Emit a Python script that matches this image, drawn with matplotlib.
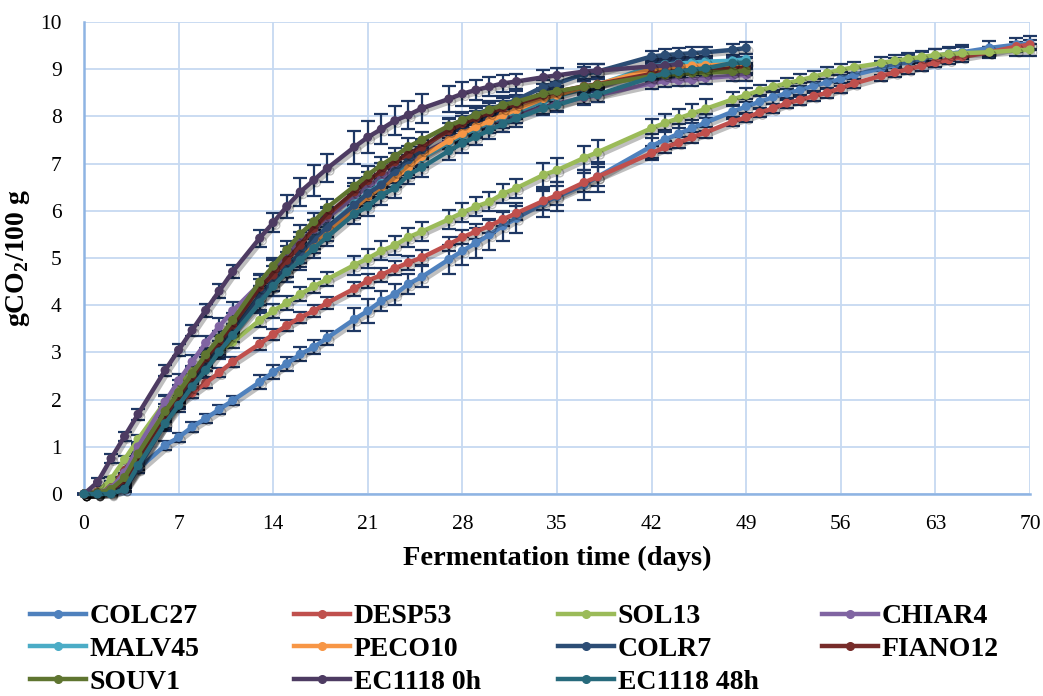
import numpy as np
import matplotlib
matplotlib.use("Agg")
import matplotlib.pyplot as plt
import matplotlib.patheffects as pe
from matplotlib.lines import Line2D

nan = np.nan

# sampling days (the 11 strains stop at day 49, three keep going to day 70)
days_short = [0, 1, 2, 3, 4, 6, 7, 8, 9, 10, 11, 13, 14, 15, 16, 17, 18, 20, 21, 22,
              23, 24, 25, 27, 28, 29, 30, 31, 32, 34, 35, 37, 38, 42, 43, 44, 45, 46, 48, 49]
days_long = days_short + [50, 51, 52, 53, 54, 55, 56, 57, 59, 60, 61, 62, 63, 64, 65, 67, 69, 70]

# g CO2 / 100 g
colc27 = [0, 0, 0.02, 0.10, 0.53, 1.03, 1.20, 1.42, 1.60, 1.79, 1.98, 2.37, 2.58, 2.76, 2.96, 3.11,
          3.31, 3.70, 3.88, 4.09, 4.23, 4.45, 4.60, 4.97, 5.15, 5.32, 5.49, 5.68, 5.84, 6.17, 6.30,
          6.55, 6.72, 7.37, 7.51, 7.63, 7.75, 7.87, 8.10, 8.21,
          8.31, 8.41, 8.49, 8.56, 8.65, 8.72, 8.79, 8.88, 9.02, 9.09, 9.16, 9.22, 9.28, 9.33,
          9.36, 9.45, 9.52, 9.55]
desp53 = [0, 0.05, 0.15, 0.50, 0.95, 1.65, 1.93, 2.14, 2.35, 2.57, 2.80, 3.18, 3.38, 3.57, 3.74,
          3.88, 4.05, 4.35, 4.52, 4.64, 4.78, 4.90, 5.01, 5.29, 5.44, 5.56, 5.68, 5.82, 5.95, 6.21,
          6.33, 6.60, 6.72, 7.22, 7.35, 7.44, 7.56, 7.66, 7.89, 7.98,
          8.08, 8.17, 8.28, 8.35, 8.43, 8.50, 8.60, 8.70, 8.86, 8.93, 9.00, 9.07, 9.14, 9.20,
          9.26, 9.36, 9.48, 9.52]
sol13 = [0, 0.04, 0.32, 0.73, 1.16, 1.95, 2.30, 2.60, 2.85, 3.02, 3.22, 3.68, 3.88, 4.05, 4.23,
         4.40, 4.55, 4.85, 4.99, 5.15, 5.27, 5.44, 5.56, 5.82, 5.96, 6.09, 6.19, 6.36, 6.48, 6.76,
         6.86, 7.12, 7.24, 7.75, 7.86, 7.96, 8.06, 8.16, 8.36, 8.45,
         8.55, 8.63, 8.70, 8.77, 8.84, 8.92, 8.99, 9.04, 9.13, 9.18, 9.22, 9.26, 9.30, 9.32,
         9.34, 9.36, 9.40, 9.41]
chiar4 = [0, 0.02, 0.12, 0.45, 1.00, 1.95, 2.40, 2.80, 3.20, 3.55, 3.88, 4.45, 4.75, 5.05, 5.35,
          5.60, 5.85, 6.30, 6.50, 6.70, 6.88, 7.05, 7.20, 7.50, 7.62, 7.74, 7.85, 7.95, 8.05, 8.20,
          8.27, 8.40, 8.45, 8.70, 8.75, 8.76, 8.77, 8.81, 8.86, 8.88]
malv45 = [0, 0, 0.06, 0.25, 0.70, 1.70, 2.10, 2.50, 2.85, 3.20, 3.55, 4.20, 4.50, 4.80, 5.10,
          5.40, 5.65, 6.15, 6.38, 6.58, 6.78, 6.95, 7.12, 7.45, 7.60, 7.74, 7.87, 8.00, 8.10, 8.32,
          8.42, 8.60, 8.67, 9.06, 9.10, 9.12, 9.14, 9.16, 9.18, 9.21]
peco10 = [0, 0, 0.05, 0.20, 0.60, 1.55, 2.00, 2.40, 2.75, 3.10, 3.45, 4.10, 4.40, 4.70, 5.00,
          5.30, 5.55, 6.05, 6.30, 6.50, 6.70, 6.90, 7.15, 7.49, 7.64, 7.78, 7.90, 8.03, 8.14, 8.38,
          8.45, 8.62, 8.68, 9.00, 9.03, 9.05, 9.07, 9.08, 9.10, 9.12]
colr7 = [0, 0, 0.03, 0.15, 0.55, 1.50, 1.95, 2.35, 2.75, 3.10, 3.45, 4.20, 4.50, 4.80, 5.10,
         5.40, 5.65, 6.12, 6.37, 6.55, 6.83, 7.08, 7.29, 7.78, 7.92, 8.05, 8.15, 8.25, 8.35, 8.63,
         8.70, 8.90, 8.95, 9.27, 9.30, 9.32, 9.34, 9.36, 9.41, 9.45]
fiano12 = [0, 0.02, 0.08, 0.30, 0.75, 1.68, 2.08, 2.48, 2.88, 3.22, 3.58, 4.38, 4.64, 4.95, 5.27,
           5.63, 5.91, 6.40, 6.64, 6.83, 7.04, 7.20, 7.35, 7.70, 7.85, 7.97, 8.08, 8.18, 8.26, 8.45,
           8.52, 8.64, 8.68, 8.90, 8.93, 8.95, 8.97, 8.98, 9.01, 9.03]
souv1 = [0, 0.02, 0.10, 0.35, 0.85, 1.75, 2.15, 2.55, 2.95, 3.30, 3.68, 4.49, 4.83, 5.17, 5.51,
         5.77, 6.07, 6.52, 6.76, 6.97, 7.15, 7.36, 7.50, 7.80, 7.92, 8.03, 8.14, 8.24, 8.31, 8.48,
         8.53, 8.63, 8.67, 8.85, 8.88, 8.90, 8.92, 8.93, 8.95, 8.97]
ec1118_0h = [0, 0.25, 0.75, 1.22, 1.69, 2.62, 3.05, 3.47, 3.89, 4.30, 4.71, 5.42, 5.75, 6.09, 6.40,
             6.65, 6.90, 7.35, 7.56, 7.73, 7.91, 8.03, 8.17, 8.37, 8.48, 8.56, 8.63, 8.70, 8.74,
             8.83, 8.87, 8.95, 8.97, 9.06, 9.08, 9.11, nan, nan, nan, nan]
ec1118_48h = [0, 0, 0, 0.10, 0.60, 1.49, 1.88, 2.27, 2.62, 3.01, 3.36, 4.05, 4.40, 4.70, 4.95,
              5.20, 5.45, 5.93, 6.09, 6.33, 6.48, 6.76, 6.92, 7.27, 7.43, 7.57, 7.71, 7.84, 7.96,
              8.17, 8.24, 8.42, 8.46, 8.83, 8.92, 8.95, 8.99, 9.02, 9.13, 9.14]

# standard deviations
sd_colc27 = [0, 0.02, 0.03, 0.05, 0.08, 0.10, 0.10, 0.10, 0.10, 0.10, 0.10, 0.15, 0.15, 0.15, 0.15,
             0.15, 0.15, 0.25, 0.25, 0.22, 0.22, 0.22, 0.22, 0.30, 0.30, 0.32, 0.32, 0.32, 0.32,
             0.30, 0.30, 0.32, 0.32, 0.25, 0.20, 0.20, 0.18, 0.18, 0.15, 0.15,
             0.15, 0.15, 0.15, 0.15, 0.15, 0.15, 0.15, 0.15, 0.15, 0.15, 0.15, 0.15, 0.15, 0.15,
             0.15, 0.15, 0.15, 0.15]
sd_desp53 = [0, 0.02, 0.03, 0.05, 0.08, 0.10, 0.10, 0.10, 0.10, 0.10, 0.10, 0.12, 0.12, 0.12, 0.12,
             0.12, 0.12, 0.15, 0.15, 0.15, 0.15, 0.15, 0.15, 0.15, 0.15, 0.15, 0.15, 0.15, 0.15,
             0.20, 0.20, 0.20, 0.20, 0.15, 0.12, 0.12, 0.12, 0.12, 0.10, 0.10,
             0.10, 0.10, 0.10, 0.10, 0.10, 0.10, 0.10, 0.10, 0.10, 0.10, 0.10, 0.10, 0.10, 0.10,
             0.10, 0.10, 0.10, 0.10]
sd_sol13 = [0, 0.02, 0.05, 0.08, 0.10, 0.12, 0.12, 0.12, 0.12, 0.12, 0.12, 0.15, 0.15, 0.15, 0.15,
            0.15, 0.15, 0.20, 0.20, 0.20, 0.20, 0.20, 0.20, 0.20, 0.20, 0.20, 0.20, 0.20, 0.20,
            0.25, 0.25, 0.25, 0.25, 0.20, 0.20, 0.20, 0.20, 0.20, 0.15, 0.15,
            0.12, 0.12, 0.12, 0.12, 0.12, 0.12, 0.12, 0.12, 0.12, 0.12, 0.12, 0.12, 0.12, 0.12,
            0.12, 0.12, 0.12, 0.12]
sd_chiar4 = [0, 0.02, 0.05, 0.08, 0.10, 0.15, 0.15, 0.15, 0.15, 0.18, 0.18, 0.20, 0.20, 0.20, 0.20,
             0.20, 0.20, 0.22, 0.22, 0.22, 0.22, 0.22, 0.22, 0.20, 0.20, 0.20, 0.20, 0.20, 0.20,
             0.15, 0.15, 0.15, 0.15, 0.12, 0.12, 0.12, 0.12, 0.12, 0.12, 0.12]
sd_malv45 = [0, 0.02, 0.05, 0.08, 0.10, 0.15, 0.15, 0.15, 0.15, 0.15, 0.15, 0.20, 0.20, 0.20, 0.20,
             0.20, 0.20, 0.20, 0.20, 0.20, 0.20, 0.20, 0.20, 0.15, 0.15, 0.15, 0.15, 0.15, 0.15,
             0.15, 0.15, 0.15, 0.15, 0.12, 0.12, 0.12, 0.12, 0.12, 0.12, 0.12]
sd_peco10 = [0, 0.02, 0.05, 0.08, 0.10, 0.15, 0.15, 0.15, 0.15, 0.15, 0.15, 0.20, 0.20, 0.20, 0.20,
             0.20, 0.20, 0.20, 0.20, 0.20, 0.20, 0.20, 0.20, 0.15, 0.15, 0.15, 0.15, 0.15, 0.15,
             0.15, 0.15, 0.15, 0.15, 0.12, 0.12, 0.12, 0.12, 0.12, 0.12, 0.12]
sd_colr7 = [0, 0.02, 0.05, 0.08, 0.10, 0.15, 0.15, 0.15, 0.15, 0.15, 0.15, 0.20, 0.20, 0.20, 0.20,
            0.20, 0.20, 0.20, 0.20, 0.20, 0.20, 0.20, 0.20, 0.18, 0.18, 0.18, 0.18, 0.18, 0.18,
            0.15, 0.15, 0.15, 0.15, 0.12, 0.12, 0.12, 0.12, 0.12, 0.12, 0.12]
sd_fiano12 = [0, 0.02, 0.05, 0.08, 0.10, 0.15, 0.15, 0.15, 0.15, 0.15, 0.15, 0.18, 0.18, 0.18,
              0.18, 0.18, 0.18, 0.18, 0.18, 0.18, 0.18, 0.18, 0.18, 0.15, 0.15, 0.15, 0.15, 0.15,
              0.15, 0.12, 0.12, 0.12, 0.12, 0.10, 0.10, 0.10, 0.10, 0.10, 0.10, 0.10]
sd_souv1 = [0, 0.02, 0.05, 0.08, 0.10, 0.15, 0.15, 0.15, 0.15, 0.15, 0.15, 0.18, 0.18, 0.18, 0.18,
            0.18, 0.18, 0.18, 0.18, 0.18, 0.18, 0.18, 0.18, 0.15, 0.15, 0.15, 0.15, 0.15, 0.15,
            0.12, 0.12, 0.12, 0.12, 0.10, 0.10, 0.10, 0.10, 0.10, 0.10, 0.10]
sd_ec1118_0h = [0, 0.08, 0.10, 0.10, 0.12, 0.12, 0.12, 0.12, 0.14, 0.14, 0.14, 0.18, 0.20, 0.25,
                0.30, 0.33, 0.30, 0.35, 0.34, 0.32, 0.30, 0.30, 0.30, 0.28, 0.25, 0.22, 0.20, 0.18,
                0.15, 0.15, 0.15, 0.15, 0.15, 0.15, 0.15, 0.15, nan, nan, nan, nan]
sd_ec1118_48h = [0, 0.02, 0.03, 0.06, 0.10, 0.15, 0.15, 0.15, 0.15, 0.15, 0.15, 0.20, 0.20, 0.20,
                 0.20, 0.20, 0.20, 0.20, 0.20, 0.20, 0.20, 0.20, 0.20, 0.20, 0.20, 0.18, 0.18,
                 0.18, 0.18, 0.15, 0.15, 0.15, 0.15, 0.12, 0.12, 0.12, 0.12, 0.12, 0.12, 0.12]

names = ["COLC27", "DESP53", "SOL13", "CHIAR4", "MALV45", "PECO10",
         "COLR7", "FIANO12", "SOUV1", "EC1118 0h", "EC1118 48h"]
values = [colc27, desp53, sol13, chiar4, malv45, peco10, colr7, fiano12, souv1, ec1118_0h, ec1118_48h]
errors = [sd_colc27, sd_desp53, sd_sol13, sd_chiar4, sd_malv45, sd_peco10, sd_colr7,
          sd_fiano12, sd_souv1, sd_ec1118_0h, sd_ec1118_48h]
colors = ["#4F81BD", "#C0504D", "#9BBB59", "#8064A2", "#4BACC6", "#F79646",
          "#2C4D75", "#772C2A", "#5F7530", "#4D3B62", "#276A7C"]

plt.rcParams['font.family'] = ['Liberation Serif', 'DejaVu Serif']
plt.rcParams['mathtext.fontset'] = 'custom'
plt.rcParams['mathtext.rm'] = 'Liberation Serif'
plt.rcParams['mathtext.bf'] = 'Liberation Serif:bold'

fig = plt.figure(figsize=(10.43, 6.96), dpi=100)
ax = fig.add_axes([84 / 1043, 1 - 494 / 696, (1030 - 84) / 1043, (494 - 22) / 696])

shadow = [pe.SimpleLineShadow(offset=(2, -2), alpha=0.25, shadow_color='black'), pe.Normal()]

for name, y, err, c in zip(names, values, errors, colors):
    x = days_long if len(y) == len(days_long) else days_short
    ax.errorbar(x, y, yerr=err, fmt='none', ecolor='#1F3864', elinewidth=1.6,
                capsize=5, capthick=1.6, zorder=2, clip_on=False)
    ax.plot(x, y, color=c, lw=3.2, marker='o', ms=5.5, label=name, zorder=3,
            clip_on=False, path_effects=shadow)

ax.set_xlim(0, 70)
ax.set_ylim(0, 10)
ax.set_xticks(range(0, 71, 7))
ax.set_yticks(range(0, 11))
ax.grid(True, color='#C6D9F1', lw=1.3)
ax.set_axisbelow(True)
for s in ['top', 'right']:
    ax.spines[s].set_visible(False)
for s in ['left', 'bottom']:
    ax.spines[s].set_color('#8EB4E3')
    ax.spines[s].set_linewidth(1.8)
ax.tick_params(axis='y', length=0, pad=16, labelsize=15.5)
ax.tick_params(axis='x', length=0, pad=15, labelsize=15.5)

ax.set_xlabel("Fermentation time (days)", fontsize=20.5, fontweight='bold', labelpad=9)
ax.set_ylabel(r"gCO$_\mathbf{2}$/100 g", fontsize=20, fontweight='bold', labelpad=6)

# legend laid out as four fixed-width columns
handles = [Line2D([], [], color=c, lw=3.2, marker='o', ms=5.5) for c in colors]
col_x = [30, 294, 558, 822]
for k in range(4):
    idx = list(range(k, len(names), 4))
    leg = fig.legend([handles[i] for i in idx], [names[i] for i in idx],
                     loc='upper left', bbox_to_anchor=(col_x[k] / 1043, 1 - 604 / 696),
                     frameon=False, borderpad=0, borderaxespad=0, handlelength=2.0,
                     handletextpad=0.15, labelspacing=0.26,
                     prop={'family': 'Liberation Serif', 'weight': 'bold', 'size': 20})

fig.savefig("out.png", dpi=100)
